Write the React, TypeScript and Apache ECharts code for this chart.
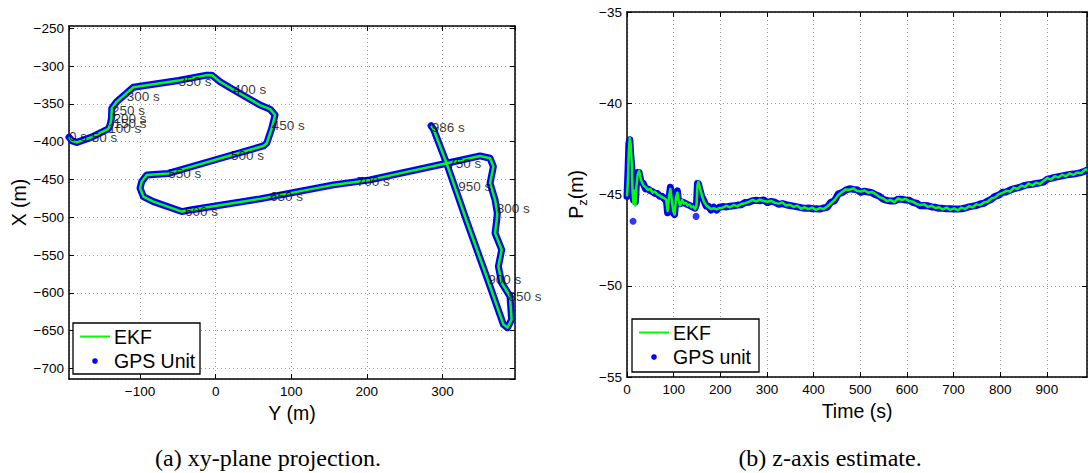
import React, { useEffect, useRef } from "react";
import * as echarts from "echarts";

// ---- (a) xy-plane track: horizontal = Y (m), vertical = X (m) ----
const trackY = [
  -194, -190, -183.7, -164, -142, -139.7, -138, -137.4, -130.8, -108.8, -95.6, -49, -11.8, -5, 5.8, 23,
  58.7, 72, 78.6, 74.2, 67.6, 63.1, 20.4, -62.6, -91.1, -97.8, -100, -95.6, -82.4, -44.8, -31.6, 58.7,
  155.7, 204, 305.7, 349.7, 363, 367.4, 363, 369.6, 372.6, 371.8, 369.6, 378.4, 374, 378.4, 389.4, 391.5,
  386, 380.7, 360, 332, 306, 288, 285,
];
const trackX = [
  -394, -399, -401, -394, -383, -378, -370, -356, -347, -328, -326, -319, -312, -312, -320.7, -331,
  -351.6, -357, -364.7, -382.3, -402, -405.7, -418, -442, -444, -452.8, -461.6, -472.7, -479.3, -492.5, -490, -475.7,
  -457.2, -450.6, -428.6, -418.9, -422, -433, -455, -477, -494.6, -503.6, -521, -543, -565, -587, -604.7, -635.5,
  -646, -642, -583, -505, -430, -383, -379,
];

// time stamps written along the track
const markTimes = [
  "0 s", "50 s", "100 s", "150 s", "200 s", "250 s", "300 s", "350 s", "400 s", "450 s", "500 s",
  "550 s", "600 s", "650 s", "700 s", "750 s", "800 s", "850 s", "900 s", "950 s", "986 s",
];
const markY = [
  -194, -164, -142, -135, -135, -137, -117.6, -49.3, 23.4, 74.2, 20.4,
  -62.6, -40.5, 72, 186.6, 307.8, 371.8, 387.3, 360.7, 321, 285.8,
];
const markX = [
  -393, -394, -382, -376, -369, -359, -340.6, -320, -331, -379, -418.5,
  -441.8, -492.5, -473, -452.8, -428.5, -488, -604.7, -582.7, -459.5, -381.5,
];

// ---- (b) altitude estimate over time ----
const timeS = [
  0, 2, 4, 6, 8, 10, 12, 14, 16, 18, 20, 23, 26, 30, 35, 40, 45, 50, 55, 60, 65, 70, 75, 80, 84, 87, 90, 93, 96, 99,
  102, 105, 108, 111, 114, 118, 122, 126, 130, 134, 138, 142, 146, 149, 151, 153, 156, 160, 165, 170, 175, 180, 186, 192, 198,
  205, 213, 221, 229, 237, 245, 253, 261, 269, 277, 285, 293, 301, 309, 317, 325, 333, 341, 349, 357, 365, 373, 381, 389, 397,
  405, 413, 421, 429, 437, 445, 453, 461, 469, 477, 485, 493, 501, 509, 517, 525, 533, 541, 549, 557, 565, 573, 581, 589, 597,
  605, 613, 621, 629, 637, 645, 653, 661, 669, 677, 685, 693, 701, 709, 717, 725, 733, 741, 749, 757, 765, 773, 781, 789, 797,
  805, 813, 821, 829, 837, 845, 853, 861, 869, 877, 885, 893, 901, 909, 917, 925, 933, 941, 949, 957, 965, 973, 981, 986,
];
const ekfZ = [
  -45.1, -44.2, -42.6, -41.9, -42.3, -43.2, -44.9, -45.5, -44.8, -45.6, -44.6, -43.9, -43.7, -44.2, -44.5, -44.6, -44.75, -44.7, -44.9, -44.85,
  -45.0, -45.05, -45.15, -45.2, -45.3, -45.9, -45.1, -44.7, -45.3, -45.9, -46.1, -45.2, -44.9, -45.4, -45.6, -45.3, -45.5, -45.45, -45.6, -45.55,
  -45.7, -45.65, -45.8, -45.6, -44.5, -44.3, -44.6, -45.0, -45.4, -45.6, -45.7, -45.8, -45.75, -45.82, -45.74,
  -45.72, -45.62, -45.7, -45.58, -45.64, -45.52, -45.48, -45.4, -45.3, -45.38, -45.28, -45.36, -45.4, -45.34, -45.46, -45.5, -45.44, -45.6, -45.56,
  -45.68, -45.62, -45.78, -45.7, -45.8, -45.72, -45.84, -45.74, -45.8, -45.66, -45.48, -45.3, -45.02, -44.86, -44.72, -44.74, -44.66, -44.8, -44.84,
  -44.78, -44.9, -44.86, -44.98, -45.14, -45.22, -45.36, -45.3, -45.42, -45.22, -45.3, -45.24, -45.36, -45.4, -45.52, -45.58, -45.54, -45.68, -45.62,
  -45.74, -45.7, -45.82, -45.72, -45.84, -45.76, -45.86, -45.72, -45.8, -45.64, -45.7, -45.54, -45.58, -45.44, -45.4, -45.22, -45.16, -44.98, -44.92,
  -44.8, -44.84, -44.62, -44.7, -44.52, -44.58, -44.4, -44.5, -44.36, -44.42, -44.26, -44.1, -44.18, -44.0, -44.06, -43.92, -44.0, -43.84, -43.92,
  -43.8, -43.84, -43.66, -43.62,
];
const gpsZ = [
  -45.1, -43.8, -42.2, -42.0, -42.8, -43.4, -44.6, -45.3, -45.0, -45.4, -44.4, -43.8, -43.8, -44.3, -44.4, -44.7, -44.7, -44.8, -44.85, -44.95,
  -44.95, -45.1, -45.1, -45.25, -45.2, -46.0, -45.2, -44.6, -45.2, -46.0, -46.1, -45.1, -44.8, -45.5, -45.5, -45.4, -45.45, -45.5, -45.55, -45.6,
  -45.65, -45.7, -45.75, -45.5, -44.4, -44.4, -44.7, -45.1, -45.35, -45.65, -45.65, -45.85, -45.7, -45.85, -45.7,
  -45.66, -45.68, -45.64, -45.62, -45.58, -45.56, -45.44, -45.42, -45.34, -45.32, -45.34, -45.3, -45.44, -45.38, -45.42, -45.54, -45.5, -45.56, -45.6,
  -45.64, -45.68, -45.72, -45.76, -45.74, -45.78, -45.78, -45.8, -45.74, -45.7, -45.42, -45.34, -44.96, -44.9, -44.76, -44.68, -44.72, -44.74, -44.88,
  -44.82, -44.86, -44.9, -45.02, -45.1, -45.26, -45.32, -45.36, -45.36, -45.26, -45.26, -45.3, -45.32, -45.44, -45.48, -45.62, -45.6, -45.62, -45.68,
  -45.7, -45.76, -45.76, -45.78, -45.78, -45.8, -45.8, -45.78, -45.74, -45.68, -45.64, -45.6, -45.52, -45.48, -45.36, -45.26, -45.1, -45.04, -44.88,
  -44.86, -44.76, -44.68, -44.64, -44.58, -44.5, -44.46, -44.44, -44.4, -44.36, -44.32, -44.16, -44.12, -44.06, -44.02, -43.98, -43.94, -43.9, -43.88,
  -43.84, -43.8, -43.72, -43.66,
];
// isolated GPS fixes away from the track
const gpsOutT = [13, 148];
const gpsOutZ = [-46.47, -46.2];

const SANS = '"Liberation Sans", Arial, Helvetica, sans-serif';
const SERIF = '"Liberation Serif", "Times New Roman", serif';
const BLUE = "#0000ff";
const GREEN = "#00ff00";

const withMinus = (v: number) => String(v).replace("-", "\u2212");

const gridLine = { show: true, lineStyle: { color: "#9a9a9a", width: 1, type: [1, 3] as number[] } };
const frameLine = { show: true, onZero: false, lineStyle: { color: "#000", width: 1.5 } };
const inTick = { show: true, inside: true, length: 5, lineStyle: { color: "#000", width: 1 } };
const tickText = { color: "#000", fontSize: 13.5, fontFamily: SANS };
const nameText = { color: "#000", fontSize: 19.5, fontFamily: SANS };

function mainAxis(grid: number, pos: string, min: number, max: number, step: number, extra: any) {
  return {
    type: "value",
    gridIndex: grid,
    position: pos,
    min,
    max,
    minInterval: step,
    maxInterval: step,
    axisLine: frameLine,
    axisTick: inTick,
    splitLine: gridLine,
    axisLabel: { ...tickText, formatter: withMinus, showMinLabel: min % step === 0, showMaxLabel: max % step === 0, margin: 5 },
    nameLocation: "middle",
    nameTextStyle: nameText,
    ...extra,
  };
}

function frameAxis(grid: number, pos: string, min: number, max: number, step: number) {
  return {
    type: "value",
    gridIndex: grid,
    position: pos,
    min,
    max,
    minInterval: step,
    maxInterval: step,
    axisLine: frameLine,
    axisTick: inTick,
    splitLine: { show: false },
    axisLabel: { show: false },
  };
}

function legendBox(x: number, y: number, w: number, h: number, gpsLabel: string) {
  const row1 = y + 13.5;
  const row2 = y + 38;
  const txt = (ty: number, text: string) => ({
    type: "text",
    x: x + 41,
    y: ty,
    z: 11,
    style: { text, fill: "#000", font: `19.5px ${SANS}`, textAlign: "left", textVerticalAlign: "middle", align: "left", verticalAlign: "middle" },
  });
  return [
    { type: "rect", z: 10, shape: { x, y, width: w, height: h }, style: { fill: "#fff", stroke: "#000", lineWidth: 1.3 } },
    { type: "line", z: 11, shape: { x1: x + 7, y1: row1, x2: x + 37, y2: row1 }, style: { stroke: GREEN, lineWidth: 2 } },
    txt(row1, "EKF"),
    { type: "circle", z: 11, shape: { cx: x + 22, cy: row2, r: 2.8 }, style: { fill: BLUE } },
    txt(row2, gpsLabel),
  ];
}

export default function App() {
  const ref = useRef<HTMLDivElement>(null);

  useEffect(() => {
    document.body.style.margin = "0";
    const chart = echarts.init(ref.current!, null, { renderer: "svg" });

    const track = trackY.map((y, i) => [y, trackX[i]]);
    const marks = markY.map((y, i) => ({ name: markTimes[i], value: [y, markX[i]] }));

    chart.setOption({
      animation: false,
      backgroundColor: "#fff",
      grid: [
        { left: 69, top: 26, width: 446, height: 353 },
        { left: 627, top: 12, width: 460, height: 365 },
      ],
      xAxis: [
        mainAxis(0, "bottom", -194, 396, 100, { name: "Y (m)", nameGap: 24 }),
        frameAxis(0, "top", -194, 396, 100),
        mainAxis(1, "bottom", 0, 986, 100, { name: "Time (s)", nameGap: 22 }),
        frameAxis(1, "top", 0, 986, 100),
      ],
      yAxis: [
        mainAxis(0, "left", -714, -247, 50, { name: "X (m)", nameGap: 40 }),
        frameAxis(0, "right", -714, -247, 50),
        mainAxis(1, "left", -55, -35, 5, {
          name: "P{s|z}(m)",
          nameGap: 38,
          nameTextStyle: {
            ...nameText,
            rich: {
              s: { fontSize: 13, fontFamily: SANS, color: "#000", padding: [14, 0, 0, 0] },
            },
          },
        }),
        frameAxis(1, "right", -55, -35, 5),
      ],
      series: [
        {
          name: "GPS Unit",
          type: "line",
          xAxisIndex: 0,
          yAxisIndex: 0,
          data: track,
          showSymbol: false,
          lineStyle: { color: BLUE, width: 7, cap: "round", join: "round" },
          z: 2,
        },
        {
          name: "EKF",
          type: "line",
          xAxisIndex: 0,
          yAxisIndex: 0,
          data: track,
          showSymbol: false,
          lineStyle: { color: GREEN, width: 2.5, join: "round" },
          z: 3,
        },
        {
          name: "time marks",
          type: "scatter",
          xAxisIndex: 0,
          yAxisIndex: 0,
          data: marks,
          symbolSize: 0,
          z: 5,
          label: {
            show: true,
            position: "right",
            distance: 0,
            formatter: (p: any) => p.name,
            color: "#000",
            fontSize: 13.5,
            fontFamily: SANS,
          },
        },
        {
          name: "GPS unit",
          type: "line",
          xAxisIndex: 2,
          yAxisIndex: 2,
          data: timeS.map((t, i) => [t, gpsZ[i]]),
          showSymbol: false,
          lineStyle: { color: BLUE, width: 7, join: "round", cap: "round" },
          z: 2,
        },
        {
          name: "GPS unit",
          type: "scatter",
          xAxisIndex: 2,
          yAxisIndex: 2,
          data: gpsOutT.map((t, i) => [t, gpsOutZ[i]]),
          symbolSize: 7,
          itemStyle: { color: BLUE },
          z: 2,
        },
        {
          name: "EKF",
          type: "line",
          xAxisIndex: 2,
          yAxisIndex: 2,
          data: timeS.map((t, i) => [t, ekfZ[i]]),
          showSymbol: false,
          lineStyle: { color: GREEN, width: 2.5, join: "round" },
          z: 3,
        },
      ],
      graphic: [
        ...legendBox(73, 323, 127, 51, "GPS Unit"),
        ...legendBox(632, 319, 127, 53, "GPS unit"),
        {
          type: "text",
          x: 268,
          y: 458,
          style: { text: "(a) xy-plane projection.", fill: "#000", font: `24px ${SERIF}`, textAlign: "center", textVerticalAlign: "middle", align: "center", verticalAlign: "middle" },
        },
        {
          type: "text",
          x: 830,
          y: 458,
          style: { text: "(b) z-axis estimate.", fill: "#000", font: `24px ${SERIF}`, textAlign: "center", textVerticalAlign: "middle", align: "center", verticalAlign: "middle" },
        },
      ],
    });

    return () => chart.dispose();
  }, []);

  return <div ref={ref} style={{ position: "absolute", left: 0, top: 0, width: 1088, height: 473 }} />;
}
